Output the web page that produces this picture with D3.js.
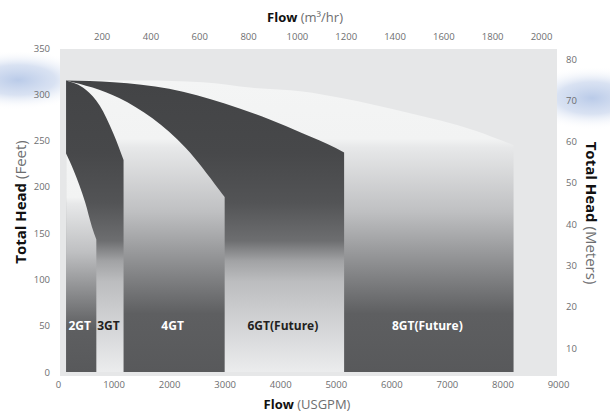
<!DOCTYPE html>
<html>
<head>
<meta charset="utf-8">
<script src="https://cdn.jsdelivr.net/npm/d3@7/dist/d3.min.js"></script>
<style>
	body { margin: 0; background: #fff; }
	svg { display: block; font-family: "Open Sans", sans-serif; }
	.tick text { fill: #6d6e70; font-size: 9.5px; font-family: "Open Sans", sans-serif; }
	.title { font-size: 13px; }
	.title.side { font-size: 15px; }
	.title .strong { font-weight: 700; fill: #111; }
	.title .unit { fill: #6d6e70; }
	.pump-label { font-size: 12px; font-weight: 700; }
</style>
</head>
<body>
<svg id="chart" width="610" height="414"></svg>
<script>
// Pump names, smallest first.
const pumps = ['2GT', '3GT', '4GT', '6GT(Future)', '8GT(Future)'];

// Head curves: flow in USGPM, head in feet.
const flow2GT = [145, 280, 490, 610, 690];
const head2GT = [236, 218, 183, 157, 143];
const flow3GT = [145, 500, 750, 1000, 1180];
const head3GT = [315, 305, 288, 257, 229];
const flow4GT = [145, 1100, 1700, 2300, 2900, 3000];
const head4GT = [315, 296, 274, 242, 197, 189];
const flow6GT = [145, 1000, 2000, 3000, 3800, 4400, 5000, 5150];
const head6GT = [315, 313, 306, 290, 273, 258, 242, 237];
const flow8GT = [145, 1500, 2600, 3500, 4400, 5100, 6300, 7500, 8200];
const head8GT = [315, 315, 313, 307, 303, 296, 280, 261, 245];

// Tick labels of the four axes.
const flowTicks = [0, 1000, 2000, 3000, 4000, 5000, 6000, 7000, 8000, 9000];
const cubicTicks = [200, 400, 600, 800, 1000, 1200, 1400, 1600, 1800, 2000];
const feetTicks = [0, 50, 100, 150, 200, 250, 300, 350];
const meterTicks = [10, 20, 30, 40, 50, 60, 70, 80];

const curves = [
	{ name: pumps[0], flow: flow2GT, head: head2GT, tone: 'light' },
	{ name: pumps[1], flow: flow3GT, head: head3GT, tone: 'dark' },
	{ name: pumps[2], flow: flow4GT, head: head4GT, tone: 'light' },
	{ name: pumps[3], flow: flow6GT, head: head6GT, tone: 'dark' },
	{ name: pumps[4], flow: flow8GT, head: head8GT, tone: 'light' },
];

const svg = d3.select('#chart');

const x = d3.scaleLinear().domain([0, 9000]).range([58, 558]);
const y = d3.scaleLinear().domain([0, 350]).range([372, 48]);
const xTop = d3.scaleLinear().domain([0, 2000]).range([52.8, 541]);
const yRight = d3.scaleLinear().domain([0, 80]).range([389.3, 59]);

const defs = svg.append('defs');

// Bluish glow behind the side axes.
const glow = defs.append('radialGradient').attr('id', 'glow');
glow.append('stop').attr('offset', 0).attr('stop-color', '#b2c5e6').attr('stop-opacity', 0.9);
glow.append('stop').attr('offset', 0.5).attr('stop-color', '#c0cfea').attr('stop-opacity', 0.6);
glow.append('stop').attr('offset', 1).attr('stop-color', '#ffffff').attr('stop-opacity', 0);

const tones = {
	light: [
		[0, '#f4f5f5'],
		[0.2, '#f2f3f3'],
		[0.23, '#e7e8e9'],
		[0.45, '#bfc0c2'],
		[0.65, '#87888a'],
		[0.8, '#5e5f61'],
		[1, '#58595b'],
	],
	dark: [
		[0, '#434446'],
		[0.25, '#47484a'],
		[0.42, '#535456'],
		[0.55, '#6d6e70'],
		[0.62, '#a2a3a5'],
		[0.69, '#bcbdbf'],
		[0.82, '#d0d1d3'],
		[1, '#ebeced'],
	],
};

Object.entries(tones).forEach(([key, stops]) => {
	const g = defs.append('linearGradient').attr('id', `tone-${key}`).attr('x1', 0).attr('x2', 0).attr('y1', 0).attr('y2', 1);
	stops.forEach(([o, c]) => g.append('stop').attr('offset', o).attr('stop-color', c));
});

svg.append('ellipse').attr('cx', 18).attr('cy', 80).attr('rx', 75).attr('ry', 30).attr('fill', 'url(#glow)');
svg.append('ellipse').attr('cx', 592).attr('cy', 98).attr('rx', 70).attr('ry', 32).attr('fill', 'url(#glow)');

// Plot background.
svg.append('rect').attr('x', 60).attr('y', 49).attr('width', 497).attr('height', 327).attr('fill', '#e6e7e8');

const area = d3
	.area()
	.x(d => x(d[0]))
	.y0(y(0))
	.y1(d => y(d[1]))
	.curve(d3.curveMonotoneX);

// Largest pump at the back.
const layers = curves.slice().reverse();

svg.append('g')
	.selectAll('path')
	.data(layers)
	.join('path')
	.attr('d', d => area(d3.zip(d.flow, d.head)))
	.attr('fill', d => `url(#tone-${d.tone})`);

// Labels sit in the visible column of each pump.
svg.append('g')
	.selectAll('text')
	.data(curves)
	.join('text')
	.attr('class', 'pump-label')
	.attr('x', (d, i) => {
		const start = i ? d3.max(curves[i - 1].flow) : d.flow[0];
		return (x(start) + x(d3.max(d.flow))) / 2 - 1.5;
	})
	.attr('y', y(50))
	.attr('dy', '0.35em')
	.attr('text-anchor', 'middle')
	.attr('fill', d => (d.tone === 'light' ? '#ffffff' : '#231f20'))
	.text(d => d.name);

const clean = g => {
	g.select('.domain').remove();
	g.attr('font-family', null).attr('font-size', null);
};
const fmt = d3.format('d');

svg.append('g').attr('transform', `translate(0,${y(0)})`).call(d3.axisBottom(x).tickValues(flowTicks).tickFormat(fmt).tickSize(0).tickPadding(9)).call(clean);
svg.append('g').attr('transform', 'translate(0,44)').call(d3.axisTop(xTop).tickValues(cubicTicks).tickFormat(fmt).tickSize(0).tickPadding(4)).call(clean);
svg.append('g').attr('transform', 'translate(50,0)').call(d3.axisLeft(y).tickValues(feetTicks).tickFormat(fmt).tickSize(0).tickPadding(0)).call(clean);
svg.append('g').attr('transform', 'translate(566,0)').call(d3.axisRight(yRight).tickValues(meterTicks).tickFormat(fmt).tickSize(0).tickPadding(0)).call(clean);

const title = (tx, ty, rot, strong, unit, cls) => {
	const t = svg
		.append('text')
		.attr('class', `title ${cls || ''}`)
		.attr('transform', `translate(${tx},${ty}) rotate(${rot})`)
		.attr('text-anchor', 'middle')
		.attr('dy', '0.35em');
	t.append('tspan').attr('class', 'strong').text(strong);
	t.append('tspan').attr('class', 'unit').text(unit);
};

title(307, 404, 0, 'Flow', ' (USGPM)');
title(305, 17, 0, 'Flow', ' (m³/hr)');
title(21, 202, -90, 'Total Head', ' (Feet)', 'side');
title(591, 213, 90, 'Total Head', ' (Meters)', 'side');
</script>
</body>
</html>
